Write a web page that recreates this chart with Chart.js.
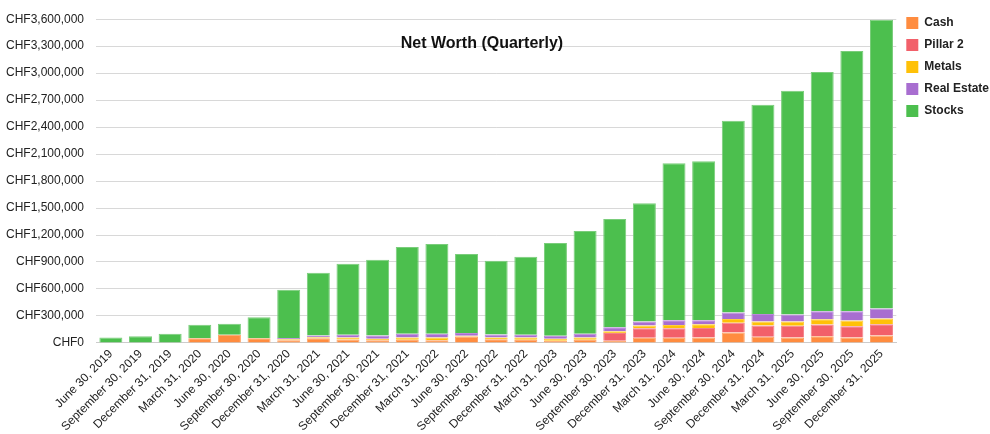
<!DOCTYPE html>
<html>
<head>
<meta charset="utf-8">
<script src="https://cdn.jsdelivr.net/npm/chart.js@4.4.1/dist/chart.umd.min.js"></script>
<style>
  html, body { margin:0; padding:0; background:#fff; }
  #wrap { position:relative; width:990px; height:434px; }
  #title {
    position:absolute; left:0; top:34px; width:964px; text-align:center;
    font-family:'Liberation Sans', Arial, sans-serif; font-weight:bold; font-size:16px; color:#111;
    pointer-events:none;
  }
</style>
</head>
<body>
<div id="wrap">
  <canvas id="nw" width="990" height="434"></canvas>
  <div id="title">Net Worth (Quarterly)</div>
</div>
<script>
// ---- DATA ----
const quarters = [
  'June 30, 2019','September 30, 2019','December 31, 2019',
  'March 31, 2020','June 30, 2020','September 30, 2020','December 31, 2020',
  'March 31, 2021','June 30, 2021','September 30, 2021','December 31, 2021',
  'March 31, 2022','June 30, 2022','September 30, 2022','December 31, 2022',
  'March 31, 2023','June 30, 2023','September 30, 2023','December 31, 2023',
  'March 31, 2024','June 30, 2024','September 30, 2024','December 31, 2024',
  'March 31, 2025','June 30, 2025','September 30, 2025','December 31, 2025'
];
const cash = [0,0,0,53000,91000,53000,30000,53000,39000,31000,35000,31000,72000,42000,35000,24000,35000,24000,57000,57000,61000,116000,69000,61000,75000,61000,83000];
const pillar2 = [0,0,0,0,0,0,0,0,0,0,0,0,0,0,0,0,0,85000,106000,105000,106000,107000,124000,129000,129000,125000,125000];
const metals = [0,0,0,0,0,0,10000,10000,22000,15000,25000,30000,8000,19000,25000,22000,25000,22000,30000,36000,40000,44000,44000,47000,59000,63000,63000];
const realEstate = [0,0,0,0,0,0,15000,20000,30000,36000,41000,41000,29000,33000,30000,33000,41000,44000,44000,55000,44000,70000,85000,80000,88000,103000,111000];
const stocks = [60000,75000,102000,148000,121000,232000,537000,697000,789000,842000,966000,998000,881000,819000,867000,1033000,1144000,1202000,1317000,1744000,1768000,2135000,2328000,2487000,2663000,2895000,3212000];
const yMax = 3600000, yStep = 300000;

const FONT = "'Liberation Sans', Arial, sans-serif";

function ds(label, data, color, edge) {
  return { label, data, backgroundColor: color, borderColor: edge, borderWidth: 1 };
}

// legend sits higher than the plot top in the original
const liftLegend = {
  id: 'liftLegend',
  afterLayout(chart) {
    const lg = chart.legend;
    if (!lg) return;
    lg.top -= 6; lg.bottom -= 6;
  }
};

new Chart(document.getElementById('nw'), {
  type: 'bar',
  data: {
    labels: quarters,
    datasets: [
      ds('Cash', cash, '#FF8C3F', '#FFA366'),
      ds('Pillar 2', pillar2, '#F2606A', '#F48088'),
      ds('Metals', metals, '#FFC107', '#FFCE3D'),
      ds('Real Estate', realEstate, '#A86ED0', '#BA8ADA'),
      ds('Stocks', stocks, '#4CBF4E', '#7ACD7B')
    ]
  },
  plugins: [liftLegend],
  options: {
    responsive: false, animation: false,
    datasets: { bar: { barPercentage: 0.97, categoryPercentage: 0.8 } },
    layout: { padding: { top: 13, left: -6, right: -9, bottom: -4 } },
    plugins: {
      tooltip: { enabled: false },
      title: { display: false },
      legend: {
        position: 'right', align: 'start',
        labels: {
          color: '#222', boxWidth: 12, boxHeight: 12, padding: 10, font: { family: FONT, size: 12, weight: 'bold' },
          generateLabels: chart => Chart.defaults.plugins.legend.labels.generateLabels(chart).map(l => Object.assign(l, { lineWidth: 0 }))
        }
      }
    },
    scales: {
      x: {
        stacked: true,
        grid: { display: false, drawTicks: false },
        border: { color: '#ccc' },
        ticks: { color: '#222', padding: 4, minRotation: 45, maxRotation: 45, autoSkip: false, font: { family: FONT, size: 12 } }
      },
      y: {
        stacked: true, min: 0, max: yMax,
        border: { display: false },
        grid: { color: '#d8d8d8', drawTicks: false },
        ticks: {
          stepSize: yStep, padding: 12, color: '#222', font: { family: FONT, size: 12 },
          callback: v => 'CHF' + Number(v).toLocaleString('en-US')
        }
      }
    }
  }
});
</script>
</body>
</html>
